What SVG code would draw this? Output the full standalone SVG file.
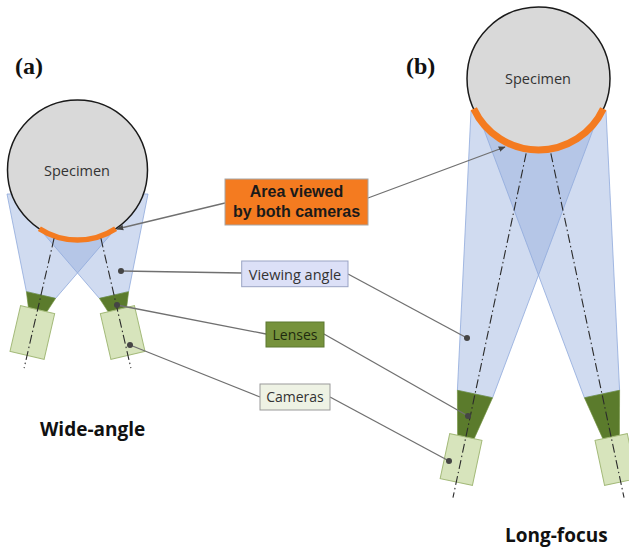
<svg xmlns="http://www.w3.org/2000/svg" width="629" height="548" viewBox="0 0 629 548">
  <defs>
    <style>
      .cone { fill: #8FAADC; fill-opacity: 0.42; stroke: #8FAADC; stroke-width: 0.8; }
      .spec { fill: #D9D9D9; stroke: #1a1a1a; stroke-width: 1.5; }
      .area { fill: none; stroke: #F47B20; stroke-linecap: butt; }
      .axis { fill: none; stroke: #2b2b2b; stroke-width: 1.1; stroke-dasharray: 9 3 1.5 3; }
      .lens { fill: #5B7B2C; stroke: #6f8f3d; stroke-width: 0.6; }
      .cam { fill: #D7E4BC; stroke: #A4BA7A; stroke-width: 1; }
      .lead { fill: none; stroke: #707070; stroke-width: 1.3; }
      .dot { fill: #454545; }
      .lbl { font-family: "Open Sans", "Liberation Sans", sans-serif; text-anchor: middle; }
      .boldlbl { font-family: "Liberation Sans", Arial, sans-serif; font-weight: bold; text-anchor: middle; }
      .title { font-family: "Open Sans", "Liberation Sans", sans-serif; font-size: 19px; font-weight: bold; fill: #111; }
      .panel { font-family: "Liberation Serif", serif; font-size: 24px; font-weight: bold; fill: #111; }
    </style>
    <marker id="tip" viewBox="0 0 10 10" refX="9" refY="5" markerWidth="7" markerHeight="7" orient="auto" markerUnits="userSpaceOnUse">
      <path d="M0,1 L10,5 L0,9 z" fill="#454545"/>
    </marker>
  </defs>

  <rect width="629" height="548" fill="#ffffff"/>

  <!-- (a) wide-angle set-up -->
  <g id="cones-a">
    <polygon class="cone" points="7,194 77,194 115.6,228.7 55.6,298.4 26.4,291.6"/>
    <polygon class="cone" points="148,194 78,194 39.4,228.7 99.4,298.4 128.6,291.6"/>
  </g>
  <g id="specimen-a">
    <circle class="spec" cx="77.5" cy="170" r="70"/>
    <path class="area" stroke-width="5.5" d="M39.4,228.7 A70,70 0 0 0 115.6,228.7"/>
    <text class="lbl" x="77" y="176" font-size="14.5" fill="#333">Specimen</text>
  </g>
  <g id="camera-a-left" transform="translate(41,295) rotate(13)">
    <polygon class="lens" points="-15,0 15,0 8,19 -8,19"/>
    <rect class="cam" x="-17.5" y="15" width="35" height="47"/>
    <line class="axis" x1="0" y1="-58" x2="0" y2="75"/>
  </g>
  <g id="camera-a-right" transform="translate(114,295) rotate(-13)">
    <polygon class="lens" points="-15,0 15,0 8,19 -8,19"/>
    <rect class="cam" x="-17.5" y="15" width="35" height="47"/>
    <line class="axis" x1="0" y1="-58" x2="0" y2="75"/>
  </g>

  <!-- (b) long-focus set-up -->
  <g id="cones-b">
    <polygon class="cone" points="471,111 600,111 492.6,397.7 457.4,390.3"/>
    <polygon class="cone" points="606,111 477,111 584.4,397.7 619.6,390.3"/>
  </g>
  <g id="specimen-b">
    <circle class="spec" cx="538.5" cy="78.5" r="71.5"/>
    <path class="area" stroke-width="7" d="M473.7,108.7 A71.5,71.5 0 0 0 603.3,108.7"/>
    <text class="lbl" x="538" y="84" font-size="14.5" fill="#333">Specimen</text>
  </g>
  <g id="camera-b-left" transform="translate(475,394) rotate(12)">
    <polygon class="lens" points="-18,0 18,0 8,46 -8,46"/>
    <rect class="cam" x="-16.5" y="44" width="33" height="46"/>
    <line class="axis" x1="0" y1="-246" x2="0" y2="106"/>
  </g>
  <g id="camera-b-right" transform="translate(602,394) rotate(-12)">
    <polygon class="lens" points="-18,0 18,0 8,46 -8,46"/>
    <rect class="cam" x="-16.5" y="44" width="33" height="46"/>
    <line class="axis" x1="0" y1="-246" x2="0" y2="106"/>
  </g>

  <!-- leader lines from the labels to the parts -->
  <g id="connectors">
    <line class="lead" x1="225" y1="203" x2="117" y2="229" marker-end="url(#tip)"/>
    <line class="lead" x1="368" y1="198" x2="505" y2="147" marker-end="url(#tip)"/>
    <line class="lead" x1="241.7" y1="273" x2="121" y2="271"/>
    <line class="lead" x1="348" y1="274" x2="467" y2="338"/>
    <line class="lead" x1="266" y1="334" x2="117" y2="305"/>
    <line class="lead" x1="324" y1="334" x2="468" y2="416"/>
    <line class="lead" x1="260" y1="397" x2="130" y2="345"/>
    <line class="lead" x1="330" y1="397" x2="449" y2="461"/>
    <circle class="dot" cx="121" cy="271" r="3"/>
    <circle class="dot" cx="467" cy="338" r="3"/>
    <circle class="dot" cx="117" cy="305" r="3"/>
    <circle class="dot" cx="468" cy="416" r="3"/>
    <circle class="dot" cx="130" cy="345" r="3"/>
    <circle class="dot" cx="449" cy="461" r="3"/>
  </g>

  <!-- labels -->
  <g id="label-area">
    <rect x="225" y="179" width="143" height="46" fill="#F47B20" stroke="#a6a6a6" stroke-width="1"/>
    <text class="boldlbl" x="296.5" y="197" font-size="16" fill="#1a1a1a">Area viewed</text>
    <text class="boldlbl" x="296.5" y="216.5" font-size="16" fill="#1a1a1a">by both cameras</text>
  </g>
  <g id="label-viewing">
    <rect x="241.7" y="261" width="106.3" height="25.7" fill="#DCE0F7" stroke="#9aa3c4" stroke-width="1"/>
    <text class="lbl" x="295" y="279.5" font-size="14.5" fill="#333">Viewing angle</text>
  </g>
  <g id="label-lenses">
    <rect x="266" y="322" width="58" height="25" fill="#76923C" stroke="#5d7831" stroke-width="1"/>
    <text class="lbl" x="295" y="339.5" font-size="14" fill="#1e2a0e">Lenses</text>
  </g>
  <g id="label-cameras">
    <rect x="260" y="384" width="70" height="26" fill="#EEF2E4" stroke="#9a9a9a" stroke-width="1"/>
    <text class="lbl" x="295" y="402" font-size="14" fill="#333">Cameras</text>
  </g>

  <text class="panel" x="15" y="74">(a)</text>
  <text class="panel" x="406" y="74">(b)</text>
  <text class="title" x="40" y="436">Wide-angle</text>
  <text class="title" x="505" y="542">Long-focus</text>
</svg>
